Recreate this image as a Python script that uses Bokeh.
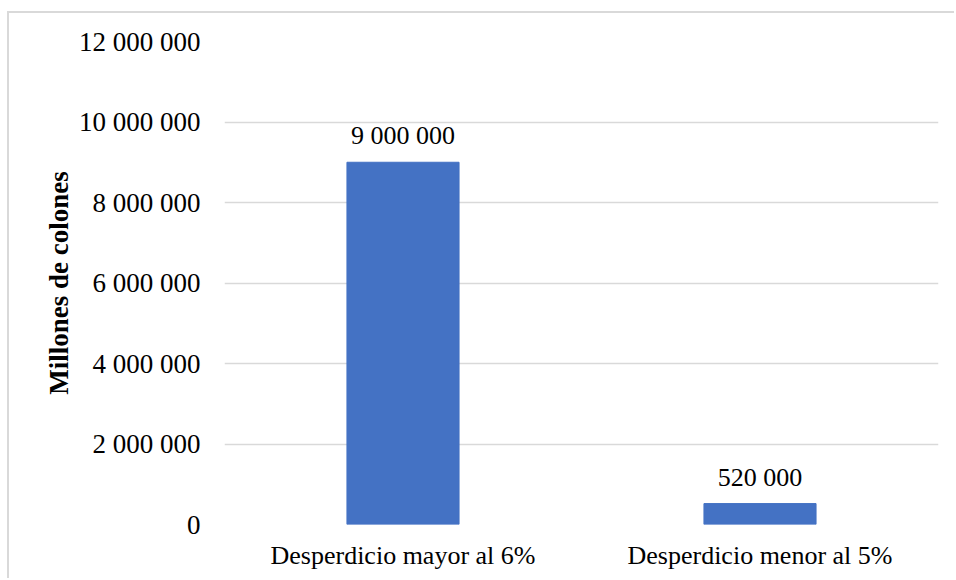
from bokeh.plotting import figure
from bokeh.models import ColumnDataSource, FixedTicker, CustomJSTickFormatter, LabelSet
from bokeh.embed import file_html
from bokeh.resources import INLINE

# Data
categories = ["Desperdicio mayor al 6%", "Desperdicio menor al 5%"]
values = [9000000, 520000]
y_ticks = [0, 2000000, 4000000, 6000000, 8000000, 10000000, 12000000]

FONT = "Liberation Serif"
GRID = "#d9d9d9"
BAR = "#4472c4"

labels = [f"{v:,}".replace(",", " ") for v in values]
source = ColumnDataSource(data=dict(cat=categories, val=values, lab=labels))

p = figure(
    x_range=categories,
    y_range=(0, 12000000),
    width=947,
    height=567,
    output_backend="svg",
    toolbar_location=None,
    min_border_left=215,
    min_border_right=18,
    min_border_top=28,
    min_border_bottom=56,
    margin=(11, 0, 0, 7),
    styles={"border-left": f"2px solid {GRID}", "border-top": f"2px solid {GRID}"},
)
p.x_range.range_padding = 0

p.vbar(x="cat", top="val", width=0.314, source=source, color=BAR)

p.add_layout(LabelSet(
    x="cat", y="val", text="lab", source=source,
    text_align="center", text_baseline="bottom", y_offset=12,
    text_font=FONT, text_font_size="26px", text_color="#000000",
))

# Axes
p.yaxis.ticker = FixedTicker(ticks=y_ticks)
p.yaxis.formatter = CustomJSTickFormatter(code="""
    return tick.toFixed(0).replace(/\\B(?=(\\d{3})+(?!\\d))/g, " ");
""")
p.yaxis.axis_label = "Millones de colones"
p.yaxis.axis_label_text_font = FONT
p.yaxis.axis_label_text_font_style = "bold"
p.yaxis.axis_label_text_font_size = "27px"
p.yaxis.axis_label_text_color = "#000000"
p.yaxis.axis_label_standoff = 2

for ax in (p.xaxis, p.yaxis):
    ax.axis_line_color = None
    ax.major_tick_line_color = None
    ax.minor_tick_line_color = None
    ax.major_label_text_font = FONT
    ax.major_label_text_font_size = "26px"
    ax.major_label_text_color = "#000000"
p.yaxis.major_label_text_font_size = "27px"
p.yaxis.major_label_standoff = 18
p.xaxis.major_label_standoff = 10

# Grid
p.xgrid.grid_line_color = None
p.ygrid.grid_line_color = GRID
p.ygrid.grid_line_width = 1.5
p.ygrid.ticker = FixedTicker(ticks=y_ticks)

p.outline_line_color = None
p.background_fill_color = "white"
p.border_fill_color = "white"

open("out.html", "w").write(file_html(p, INLINE))
